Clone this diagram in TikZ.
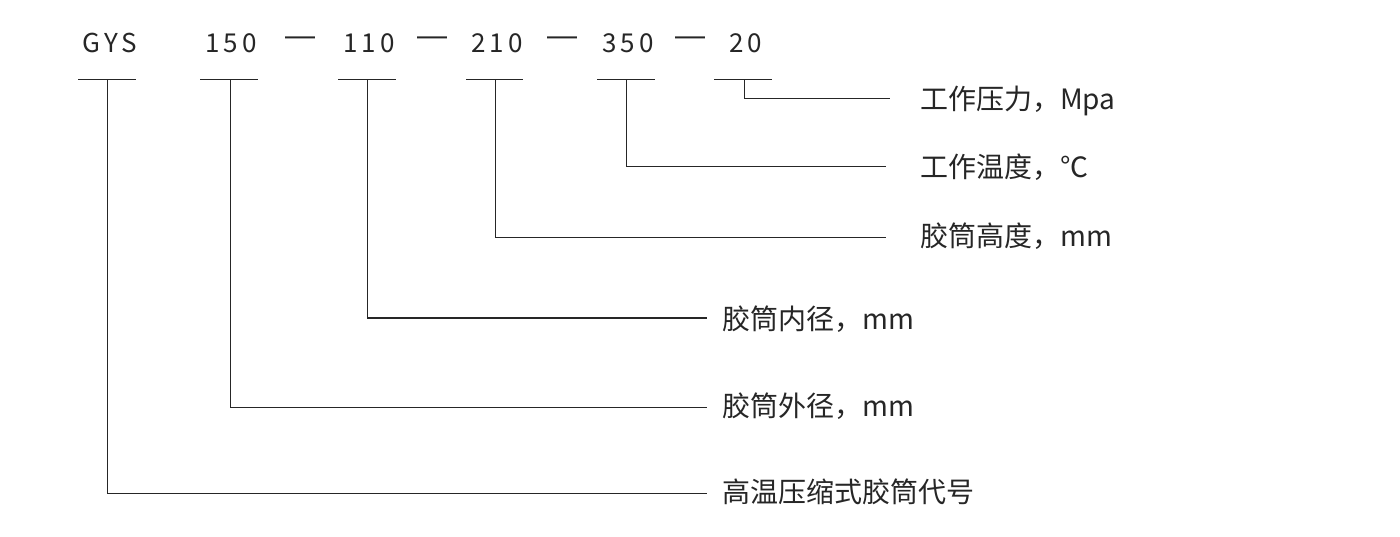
\documentclass[tikz,border=0pt]{standalone}
\usepackage{fontspec}
\setmainfont{Noto Sans CJK SC}
\newfontfamily\dashfont{Liberation Sans}
\begin{document}
\begin{tikzpicture}[x=1pt,y=-1pt,
  ln/.style={draw=black!85,line width=1pt},
  top/.style={font=\fontsize{26}{26}\selectfont\addfontfeature{LetterSpace=15},text=black!85,inner sep=0pt},
  dsh/.style={font=\dashfont\fontsize{30}{30}\selectfont,text=black!85,inner sep=0pt},
  lab/.style={font=\fontsize{28}{28}\selectfont,text=black!85,anchor=west,inner sep=0pt}]
\useasboundingbox (0,0) rectangle (1400,537);
\node[top] (t0) at (110,43) {GYS};
\node[top] (t1) at (231,43) {150};
\node[dsh] (d1) at (300,41) {—};
\node[top] (t2) at (369,43) {110};
\node[dsh] (d2) at (432,41) {—};
\node[top] (t3) at (497,43) {210};
\node[dsh] (d3) at (562,41) {—};
\node[top] (t4) at (628,43) {350};
\node[dsh] (d4) at (690,41) {—};
\node[top] (t5) at (746,43) {20};
\draw[ln] (78,80)--(136,80) (200,80)--(258,80) (338,80)--(396,80) (466,80)--(523,80) (597,80)--(655,80) (714,80)--(772,80);
\coordinate (a0) at (107,80); \coordinate (a1) at (230,80); \coordinate (a2) at (367,80);
\coordinate (a3) at (495,80); \coordinate (a4) at (626,80); \coordinate (a5) at (744,80);
\node[lab] (l5) at (920,101) {工作压力，Mpa};
\node[lab] (l4) at (920,167) {工作温度，℃};
\node[lab] (l3) at (920,236) {胶筒高度，mm};
\node[lab] (l2) at (722,319) {胶筒内径，mm};
\node[lab] (l1) at (722,406) {胶筒外径，mm};
\node[lab] (l0) at (722,492) {高温压缩式胶筒代号};
\draw[ln] (a5)--(744,99)--(890,99);
\draw[ln] (a4)--(626,167)--(886,167);
\draw[ln] (a3)--(495,238)--(886,238);
\draw[ln] (a2)--(367,318)--(707,318);
\draw[ln] (a1)--(230,407)--(707,407);
\draw[ln] (a0)--(107,493)--(707,493);
\end{tikzpicture}
\end{document}
